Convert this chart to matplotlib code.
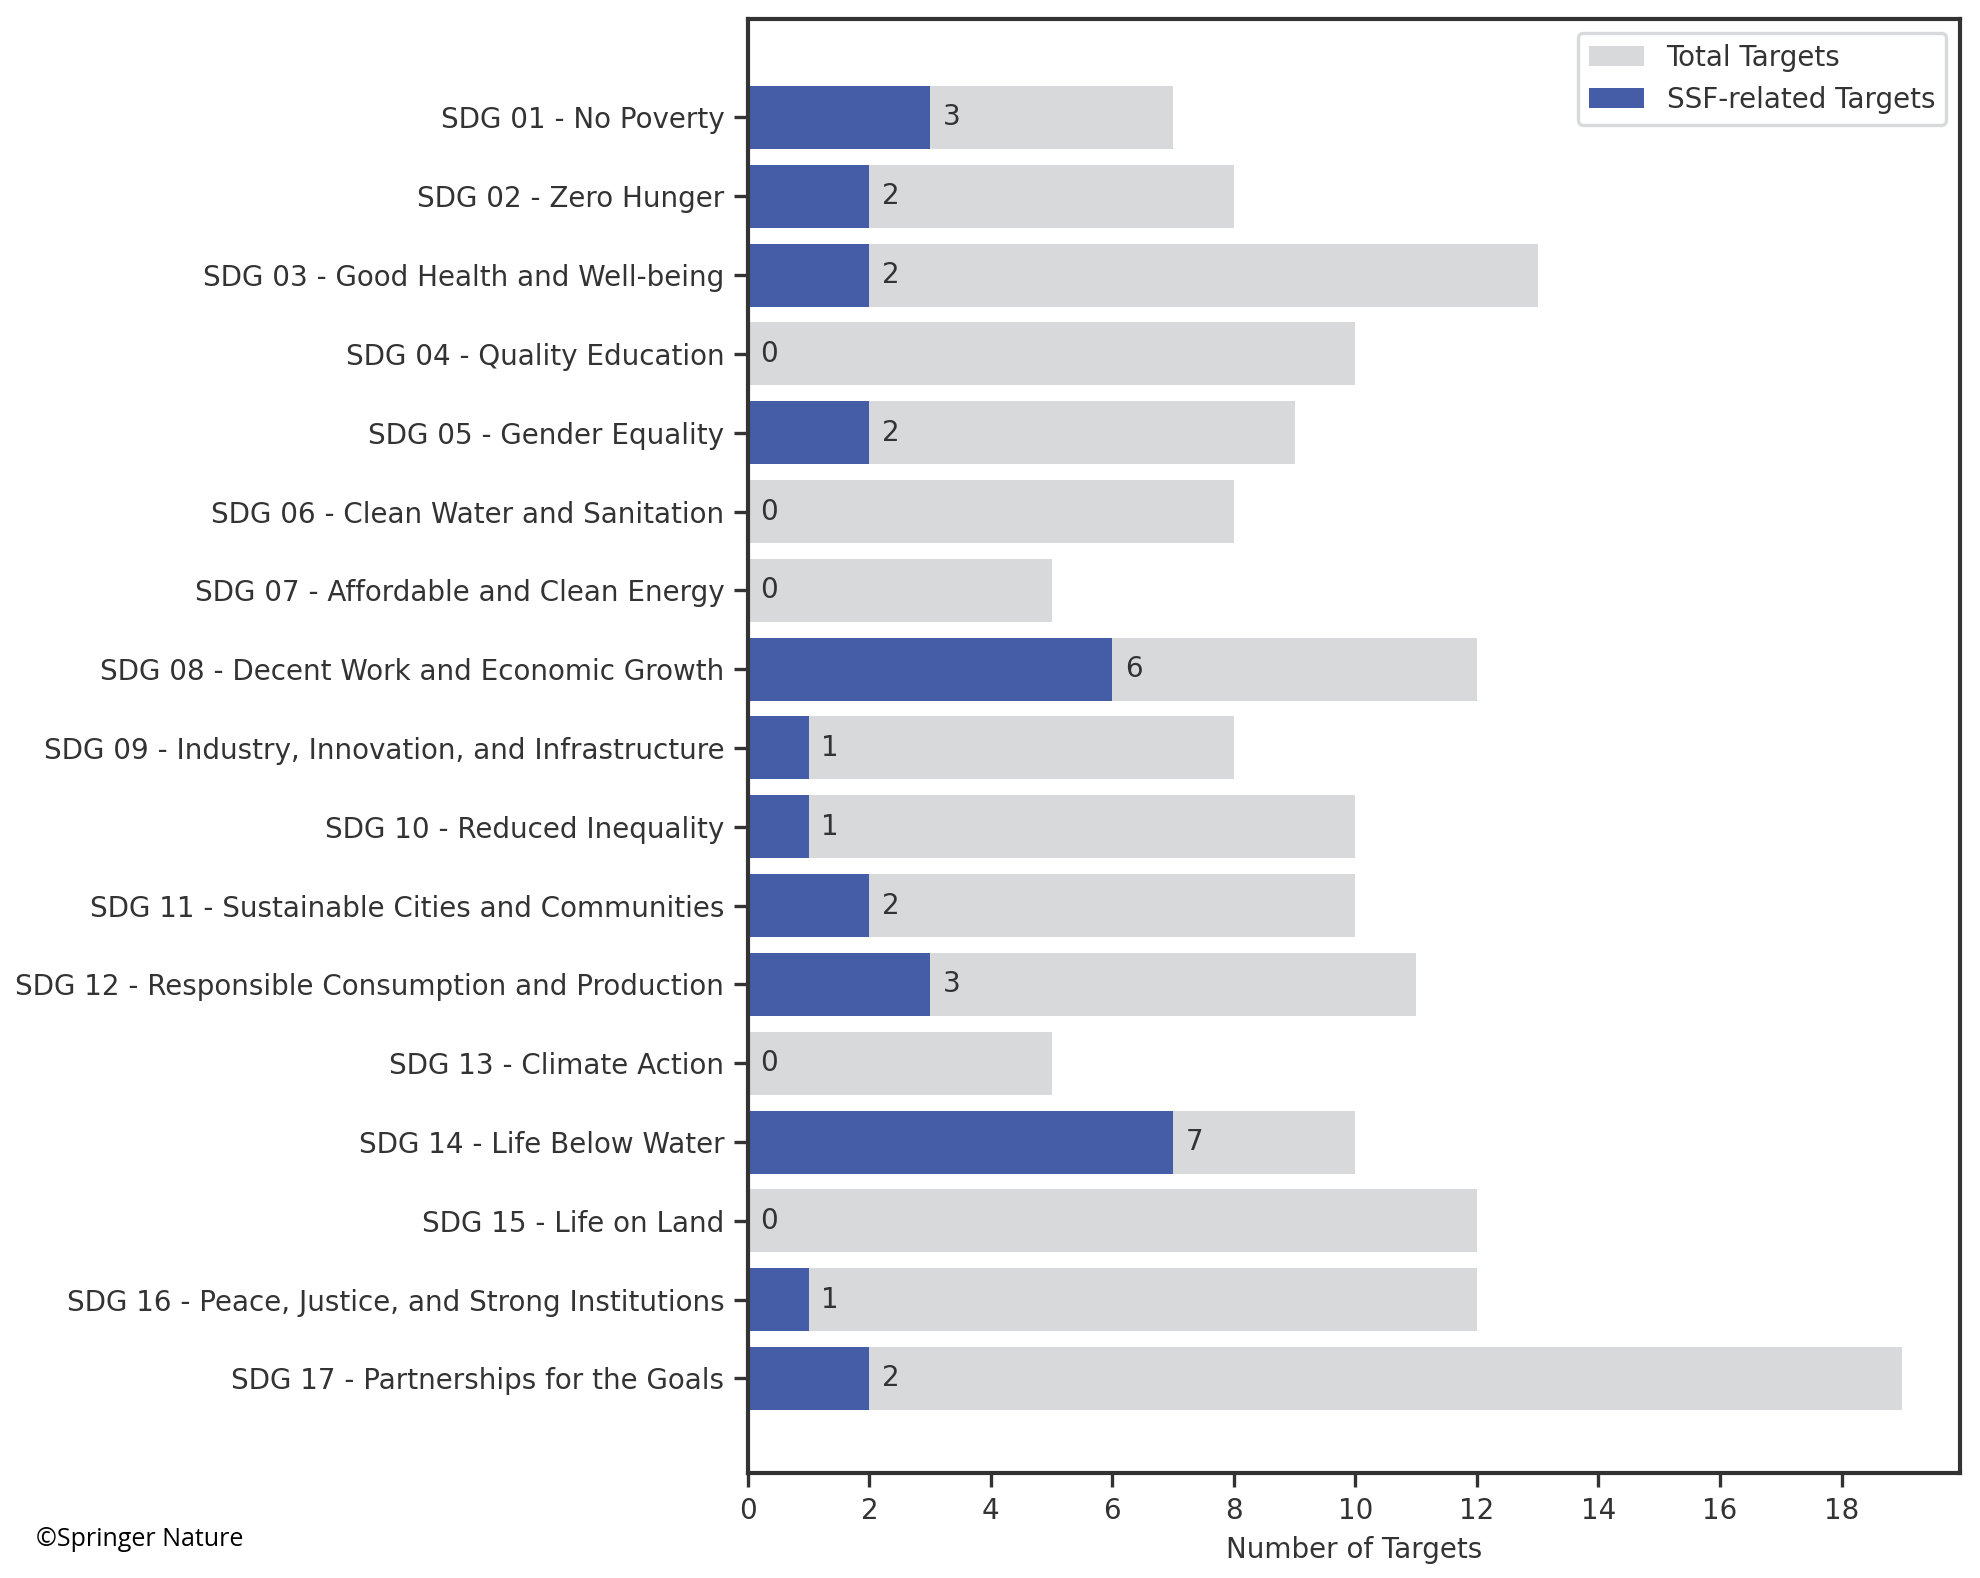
import matplotlib
matplotlib.use("Agg")
import matplotlib.pyplot as plt
import numpy as np

categories = [
    "SDG 01 - No Poverty",
    "SDG 02 - Zero Hunger",
    "SDG 03 - Good Health and Well-being",
    "SDG 04 - Quality Education",
    "SDG 05 - Gender Equality",
    "SDG 06 - Clean Water and Sanitation",
    "SDG 07 - Affordable and Clean Energy",
    "SDG 08 - Decent Work and Economic Growth",
    "SDG 09 - Industry, Innovation, and Infrastructure",
    "SDG 10 - Reduced Inequality",
    "SDG 11 - Sustainable Cities and Communities",
    "SDG 12 - Responsible Consumption and Production",
    "SDG 13 - Climate Action",
    "SDG 14 - Life Below Water",
    "SDG 15 - Life on Land",
    "SDG 16 - Peace, Justice, and Strong Institutions",
    "SDG 17 - Partnerships for the Goals",
]
total_targets = [7, 8, 13, 10, 9, 8, 5, 12, 8, 10, 10, 11, 5, 10, 12, 12, 19]
ssf_targets = [3, 2, 2, 0, 2, 0, 0, 6, 1, 1, 2, 3, 0, 7, 0, 1, 2]
xticks = [0, 2, 4, 6, 8, 10, 12, 14, 16, 18]

TXT = "#333333"
plt.rcParams["font.family"] = ["DejaVu Sans"]
plt.rcParams["text.color"] = TXT
plt.rcParams["axes.labelcolor"] = TXT
plt.rcParams["xtick.color"] = TXT
plt.rcParams["ytick.color"] = TXT

fig = plt.figure(figsize=(9.905, 7.89), dpi=200)
ax = fig.add_axes([0.3775, 0.0665, 0.6119, 0.9215])

y = np.arange(len(categories))
ax.barh(y, total_targets, height=0.8, color="#d8d9db", label="Total Targets")
bars = ax.barh(y, ssf_targets, height=0.8, color="#455ca7", label="SSF-related Targets")
ax.bar_label(bars, labels=[str(v) for v in ssf_targets], padding=4.5,
             fontsize=10, color=TXT)

ax.set_yticks(y)
ax.set_yticklabels(categories, fontsize=10)
ax.set_ylim(len(categories) - 1 + 1.2, -1.25)
ax.set_xlim(0, 19.95)
ax.set_xticks(xticks)
ax.tick_params(axis="x", labelsize=10, width=1.2, length=5)
ax.tick_params(axis="y", width=1.2, length=5)
ax.set_xlabel("Number of Targets", fontsize=10)
for s in ax.spines.values():
    s.set_color(TXT)
    s.set_linewidth(1.5)

leg = ax.legend(loc="upper right", fontsize=10, frameon=True, fancybox=True,
                edgecolor="#d8d9db", framealpha=1)
leg.get_frame().set_linewidth(1.2)

fig.text(0.018, 0.02, "©Springer Nature", fontsize=9, color="black",
         family=["Open Sans", "DejaVu Sans"], ha="left", va="baseline")

fig.savefig("out.png", dpi=200)
